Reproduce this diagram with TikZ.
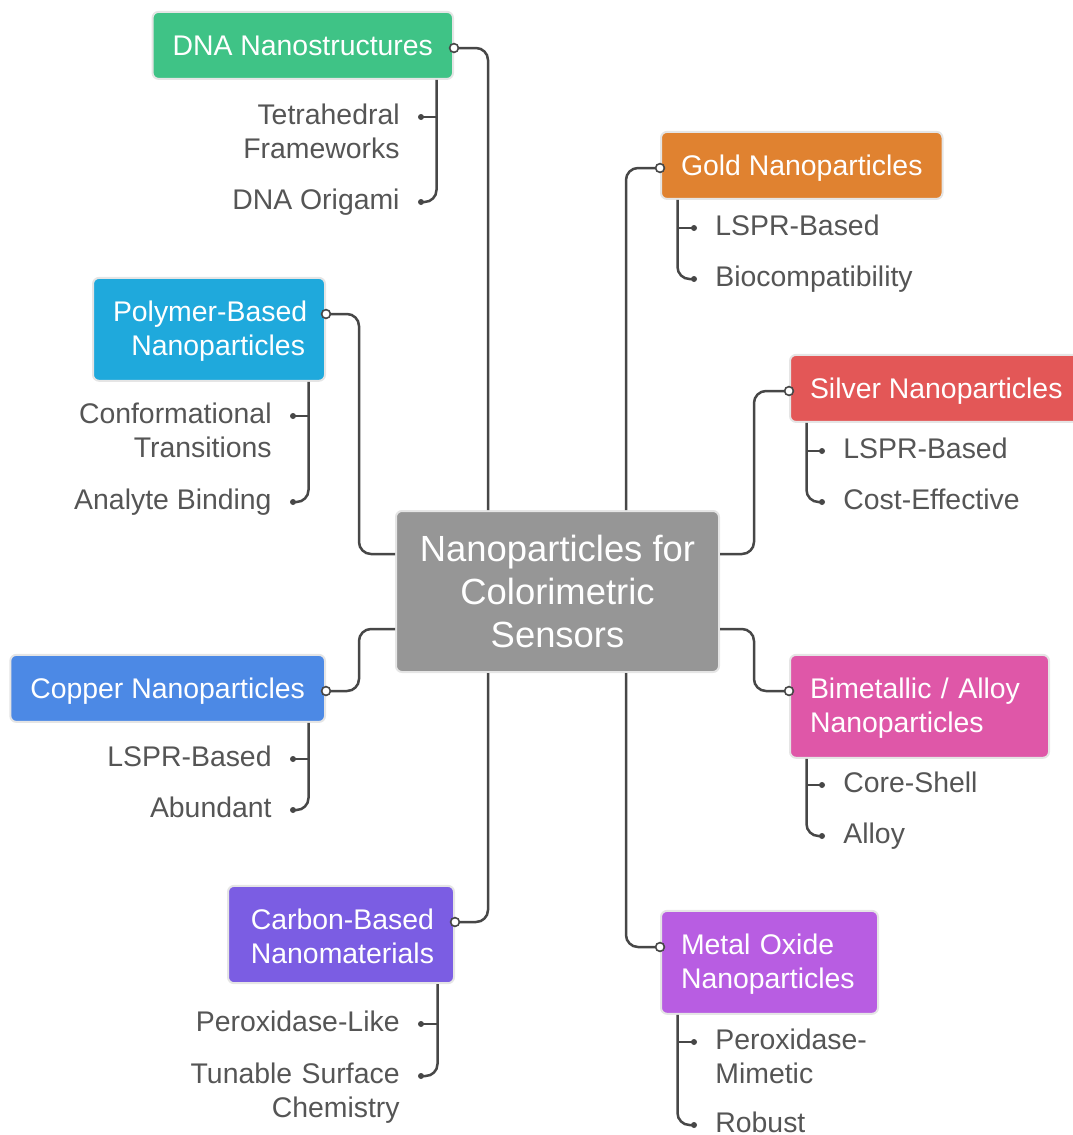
\documentclass[tikz,border=0pt]{standalone}
\usepackage{fontspec}
\setmainfont{Liberation Sans}
\usetikzlibrary{calc}

\definecolor{dnagreen}{HTML}{3FC386}
\definecolor{goldorange}{HTML}{E08230}
\definecolor{silverred}{HTML}{E35757}
\definecolor{bimpink}{HTML}{DF57A8}
\definecolor{moxpurple}{HTML}{B85DE2}
\definecolor{polycyan}{HTML}{1FA9DC}
\definecolor{copperblue}{HTML}{4C89E5}
\definecolor{carbonviolet}{HTML}{7B5DE3}
\definecolor{hubgray}{HTML}{969696}
\definecolor{leafgray}{HTML}{555555}
\definecolor{linegray}{HTML}{474747}

\begin{document}
\begin{tikzpicture}[
  x=0.5pt, y=-0.5pt, font=\fontsize{14.2}{17}\selectfont,
  topic/.style={rectangle, rounded corners=3pt, draw=black!10, line width=1pt, text=white, inner xsep=10pt, inner ysep=9.5pt, text height=12.5pt, yshift=-1.3pt},
  oneline/.style={inner ysep=10pt, text height=12pt, text depth=1.5pt},
  topicL/.style={topic, anchor=mid east, align=right},
  topicR/.style={topic, anchor=mid west, align=left},
  hub/.style={rectangle, rounded corners=3pt, draw=black!10, line width=1pt, text=white, fill=hubgray, font=\fontsize{18.2}{21.5}\selectfont, align=center, minimum width=161.5pt, minimum height=80.5pt},
  leafL/.style={anchor=mid east, align=right, text=leafgray, inner xsep=10.5pt, inner ysep=0pt, yshift=-1.3pt},
  leafR/.style={anchor=mid west, align=left, text=leafgray, inner xsep=10.5pt, inner ysep=0pt, yshift=-1.3pt},
  link/.style={draw=linegray, line width=1.25pt, rounded corners=6pt},
  twig/.style={draw=linegray, line width=1.25pt, rounded corners=6pt},
  port/.style={draw=linegray, fill=white, line width=0.8pt},
]
  \useasboundingbox (0,0) rectangle (1072,1135);

  % centre
  \node[hub] (hub) at (557.5,591.5) {Nanoparticles for\\Colorimetric\\Sensors};

  % left branches
  \node[topicL, oneline, fill=dnagreen] (dna) at (454,48) {DNA Nanostructures};
  \node[topicL, fill=polycyan, text width=96pt] (poly) at (326,314) {\mbox{Polymer-Based}\\Nanoparticles};
  \node[topicL, oneline, fill=copperblue] (copper) at (326,691) {Copper Nanoparticles};
  \node[topicL, fill=carbonviolet, text width=93pt] (carbon) at (455,922) {Carbon-Based\\Nanomaterials};

  % right branches
  \node[topicR, oneline, fill=goldorange] (gold) at (660,168) {Gold Nanoparticles};
  \node[topicR, oneline, fill=silverred] (silver) at (789,391) {Silver Nanoparticles};
  \node[topicR, fill=bimpink, text width=109.5pt] (bim) at (789,691) {Bimetallic / Alloy\\Nanoparticles};
  \node[topicR, fill=moxpurple, text width=88.5pt] (mox) at (660,947) {Metal Oxide\\Nanoparticles};

  % leaves
  \node[leafL, text width=80pt] (tet) at (421,117) {Tetrahedral\\Frameworks};
  \node[leafL] (ori) at (421,202) {DNA Origami};
  \node[leafL, text width=100pt] (conf) at (293,416) {Conformational\\Transitions};
  \node[leafL] (anal) at (293,502) {Analyte Binding};
  \node[leafL] (lsprC) at (293,759) {LSPR-Based};
  \node[leafL] (abund) at (293,810) {Abundant};
  \node[leafL] (plike) at (421,1024) {Peroxidase-Like};
  \node[leafL, text width=106pt] (tune) at (421,1076) {Tunable Surface\\Chemistry};
  \node[leafR] (lsprG) at (694,228) {LSPR-Based};
  \node[leafR] (bio) at (694,279) {Biocompatibility};
  \node[leafR] (lsprS) at (822,451) {LSPR-Based};
  \node[leafR] (cost) at (822,502) {Cost-Effective};
  \node[leafR] (core) at (822,785) {Core-Shell};
  \node[leafR] (alloy) at (822,836) {Alloy};
  \node[leafR, text width=80pt] (pmim) at (694,1042) {Peroxidase-\\Mimetic};
  \node[leafR] (rob) at (694,1125) {Robust};

  % hub links
  \draw[link] ([yshift=1.3pt]dna.mid east) -| ([xshift=17pt]dna.mid east |- hub.north);
  \draw[link] ([yshift=1.3pt]gold.mid west) -| ([xshift=-17pt]gold.mid west |- hub.north);
  \draw[link] ($(hub.east)+(0,-37.5)$) -| ([xshift=-17.5pt,yshift=1.3pt]silver.mid west) -- ([yshift=1.3pt]silver.mid west);
  \draw[link] ($(hub.east)+(0,37.5)$) -| ([xshift=-17.5pt,yshift=1.3pt]bim.mid west) -- ([yshift=1.3pt]bim.mid west);
  \draw[link] ([xshift=-17pt]mox.mid west |- hub.south) |- ([yshift=1.3pt]mox.mid west);
  \draw[link] ([yshift=1.3pt]carbon.mid east) -| ([xshift=16.5pt]carbon.mid east |- hub.south);
  \draw[link] ([yshift=1.3pt]poly.mid east) -| ($(hub.west)+(-36,-37.5)$) -- ($(hub.west)+(0,-37.5)$);
  \draw[link] ([yshift=1.3pt]copper.mid east) -| ($(hub.west)+(-36,37.5)$) -- ($(hub.west)+(0,37.5)$);

  % leaf twigs
  \foreach \br/\ua/\ub in {dna/tet/ori, poly/conf/anal, copper/lsprC/abund, carbon/plike/tune} {
    \draw[twig] ([xshift=-8.75pt]\br.south east) |- ([yshift=1.3pt]\ub.mid east);
    \draw[twig] ([xshift=-8.75pt,yshift=1.3pt]\br.south east |- \ua.mid east) -- ([yshift=1.3pt]\ua.mid east);
    \fill[linegray] ([yshift=1.3pt]\ua.mid east) circle (1.5pt) ([yshift=1.3pt]\ub.mid east) circle (1.5pt);
    \filldraw[port] ([yshift=1.3pt]\br.mid east) circle (2.2pt);
  }
  \foreach \br/\ua/\ub in {gold/lsprG/bio, silver/lsprS/cost, bim/core/alloy, mox/pmim/rob} {
    \draw[twig] ([xshift=8.75pt]\br.south west) |- ([yshift=1.3pt]\ub.mid west);
    \draw[twig] ([xshift=8.75pt,yshift=1.3pt]\br.south west |- \ua.mid west) -- ([yshift=1.3pt]\ua.mid west);
    \fill[linegray] ([yshift=1.3pt]\ua.mid west) circle (1.5pt) ([yshift=1.3pt]\ub.mid west) circle (1.5pt);
    \filldraw[port] ([yshift=1.3pt]\br.mid west) circle (2.2pt);
  }
\end{tikzpicture}
\end{document}
